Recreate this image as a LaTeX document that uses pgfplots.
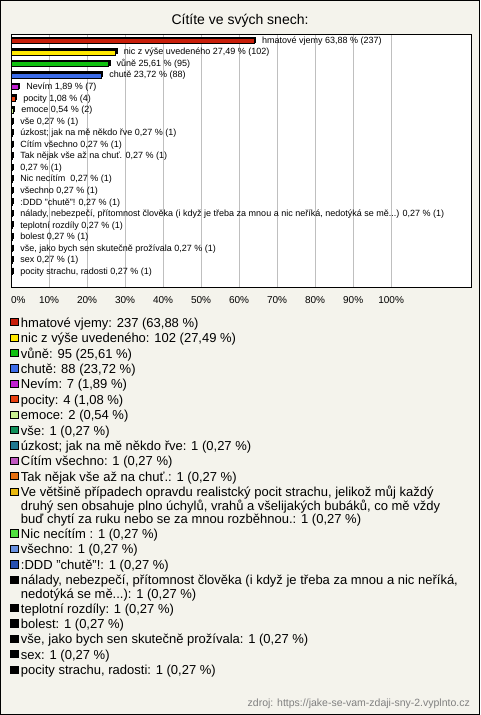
\documentclass[border=0pt]{standalone}
\usepackage{pgfplots}
\pgfplotsset{compat=1.18}
\usepackage{fontspec}
\setmainfont{Liberation Sans}
\definecolor{bg}{HTML}{F4F3EC}
\definecolor{c1}{HTML}{C81E0A}
\definecolor{c2}{HTML}{FFE800}
\definecolor{c3}{HTML}{10C010}
\definecolor{c4}{HTML}{3C6CE8}
\definecolor{c5}{HTML}{C020D0}
\definecolor{c6}{HTML}{E84010}
\definecolor{c7}{HTML}{C8F090}
\definecolor{c8}{HTML}{10905A}
\definecolor{c9}{HTML}{207890}
\definecolor{c10}{HTML}{C058C0}
\definecolor{c11}{HTML}{E87010}
\definecolor{c12}{HTML}{E8B810}
\definecolor{c13}{HTML}{50E040}
\definecolor{c14}{HTML}{6890E0}
\definecolor{c15}{HTML}{2850B0}
\newcommand\ls{\rule[-4pt]{0pt}{15.4pt}}
\newcommand\lt{\rule{0pt}{11.4pt}}
\newcommand\lb{\rule[-3.3pt]{0pt}{3.3pt}}
\newcommand\ml[1]{\vtop{\baselineskip=13.6pt \lineskiplimit=-10pt #1}}
\pgfplotsset{
  mybar/.style={xbar, bar shift=0pt, bar width=5pt, draw=black, line width=0.6pt, fill=#1,
    legend image code/.code={\draw[fill=#1, draw=black, line width=0.7pt] (0.5pt,1.4pt) rectangle (8pt,8.7pt);}},
}
\begin{document}
\begin{tikzpicture}
\fill[bg] (0pt,0pt) rectangle (480pt,715pt);
\draw[black, line width=1pt] (0.5pt,0.5pt) rectangle (479.5pt,714.5pt);
\node[font=\fontsize{14}{16}\selectfont] at (240pt,694pt) {Cítíte ve svých snech:};
\node[font=\fontsize{10.5}{12}\selectfont, text=black!50, anchor=east, inner sep=0pt] at (470pt,11pt) {zdroj: https://jake-se-vam-zdaji-sny-2.vyplnto.cz};
\begin{axis}[
  at={(11pt,428pt)}, anchor=south west,
  scale only axis, width=460pt, height=252pt,
  axis background/.style={fill=white},
  xmin=0, xmax=121, ymin=-0.52, ymax=21.3, y dir=reverse,
  ytick=\empty,
  xtick={0,10,...,100},
  xticklabels={\makebox[0pt][l]{0\%},10\%,20\%,30\%,40\%,50\%,60\%,70\%,80\%,90\%,100\%},
  xticklabel style={font=\fontsize{10}{12}\selectfont, yshift=-5.5pt},
  major tick length=0pt,
  xmajorgrids, grid style={black!25, line width=0.8pt},
  axis line style={line width=1pt},
  clip=false,
  every node near coord/.append style={font=\fontsize{9}{10}\selectfont, text=black, anchor=west, inner sep=0pt, xshift=8pt},
  legend style={at={(axis description cs:-0.002,-0.1135)}, anchor=north west, draw=none, fill=none,
    inner sep=0pt, row sep=0pt, column sep=2.5pt,
    font=\fontsize{13}{13.6}\selectfont,
    cells={anchor=base west}, nodes={inner sep=0pt, text depth=}},
]
% shadow (3D depth) of the bars
\addplot[xbar, bar shift=0pt, bar width=5pt, fill=black, draw=black, line width=0.6pt, forget plot, xshift=1.5pt, yshift=1.5pt] coordinates {
(63.88,0) (27.49,1) (25.61,2) (23.72,3) (1.89,4) (1.08,5) (0.54,6) (0.27,7) (0.27,8) (0.27,9) (0.27,10) (0.27,11) (0.27,12) (0.27,13) (0.27,14) (0.27,15) (0.27,16) (0.27,17) (0.27,18) (0.27,19) (0.27,20)};
\addplot[mybar=c1, nodes near coords={hmatové vjemy 63,88 \% (237)}] coordinates {(63.88,0)};
\addlegendentry{\ls hmatové vjemy: 237 (63,88 \%)}
\addplot[mybar=c2, nodes near coords={nic z výše uvedeného 27,49 \% (102)}] coordinates {(27.49,1)};
\addlegendentry{\ls nic z výše uvedeného: 102 (27,49 \%)}
\addplot[mybar=c3, nodes near coords={vůně 25,61 \% (95)}] coordinates {(25.61,2)};
\addlegendentry{\ls vůně: 95 (25,61 \%)}
\addplot[mybar=c4, nodes near coords={chutě 23,72 \% (88)}] coordinates {(23.72,3)};
\addlegendentry{\ls chutě: 88 (23,72 \%)}
\addplot[mybar=c5, nodes near coords={Nevím 1,89 \% (7)}] coordinates {(1.89,4)};
\addlegendentry{\ls Nevím: 7 (1,89 \%)}
\addplot[mybar=c6, nodes near coords={pocity 1,08 \% (4)}] coordinates {(1.08,5)};
\addlegendentry{\ls pocity: 4 (1,08 \%)}
\addplot[mybar=c7, nodes near coords={emoce 0,54 \% (2)}] coordinates {(0.54,6)};
\addlegendentry{\ls emoce: 2 (0,54 \%)}
\addplot[mybar=c8, nodes near coords={vše 0,27 \% (1)}] coordinates {(0.27,7)};
\addlegendentry{\ls vše: 1 (0,27 \%)}
\addplot[mybar=c9, nodes near coords={úzkost; jak na mě někdo řve 0,27 \% (1)}] coordinates {(0.27,8)};
\addlegendentry{\ls úzkost; jak na mě někdo řve: 1 (0,27 \%)}
\addplot[mybar=c10, nodes near coords={Cítím všechno 0,27 \% (1)}] coordinates {(0.27,9)};
\addlegendentry{\ls Cítím všechno: 1 (0,27 \%)}
\addplot[mybar=c11, nodes near coords={Tak nějak vše až na chuť. 0,27 \% (1)}] coordinates {(0.27,10)};
\addlegendentry{\ls Tak nějak vše až na chuť.: 1 (0,27 \%)}
\addplot[mybar=c12, nodes near coords={0,27 \% (1)}] coordinates {(0.27,11)};
\addlegendentry{\ml{\hbox{\lt Ve většině případech opravdu realistcký pocit strachu, jelikož můj každý}\hbox{druhý sen obsahuje plno úchylů, vrahů a všelijakých bubáků, co mě vždy}\hbox{buď chytí za ruku nebo se za mnou rozběhnou.: 1 (0,27 \%)\lb}}}
\addplot[mybar=c13, nodes near coords={Nic necítím\ \ 0,27 \% (1)}] coordinates {(0.27,12)};
\addlegendentry{\ls Nic necítím : 1 (0,27 \%)}
\addplot[mybar=c14, nodes near coords={všechno 0,27 \% (1)}] coordinates {(0.27,13)};
\addlegendentry{\ls všechno: 1 (0,27 \%)}
\addplot[mybar=c15, nodes near coords={:DDD "chutě"! 0,27 \% (1)}] coordinates {(0.27,14)};
\addlegendentry{\ls :DDD "chutě"!: 1 (0,27 \%)}
\addplot[mybar=black, nodes near coords={nálady, nebezpečí, přítomnost člověka (i když je třeba za mnou a nic neříká, nedotýká se mě...) 0,27 \% (1)}] coordinates {(0.27,15)};
\addlegendentry{\ml{\hbox{\lt nálady, nebezpečí, přítomnost člověka (i když je třeba za mnou a nic neříká,}\hbox{nedotýká se mě...): 1 (0,27 \%)\lb}}}
\addplot[mybar=black, nodes near coords={teplotní rozdíly 0,27 \% (1)}] coordinates {(0.27,16)};
\addlegendentry{\ls teplotní rozdíly: 1 (0,27 \%)}
\addplot[mybar=black, nodes near coords={bolest 0,27 \% (1)}] coordinates {(0.27,17)};
\addlegendentry{\ls bolest: 1 (0,27 \%)}
\addplot[mybar=black, nodes near coords={vše, jako bych sen skutečně prožívala 0,27 \% (1)}] coordinates {(0.27,18)};
\addlegendentry{\ls vše, jako bych sen skutečně prožívala: 1 (0,27 \%)}
\addplot[mybar=black, nodes near coords={sex 0,27 \% (1)}] coordinates {(0.27,19)};
\addlegendentry{\ls sex: 1 (0,27 \%)}
\addplot[mybar=black, nodes near coords={pocity strachu, radosti 0,27 \% (1)}] coordinates {(0.27,20)};
\addlegendentry{\ls pocity strachu, radosti: 1 (0,27 \%)}
\end{axis}
\end{tikzpicture}
\end{document}
